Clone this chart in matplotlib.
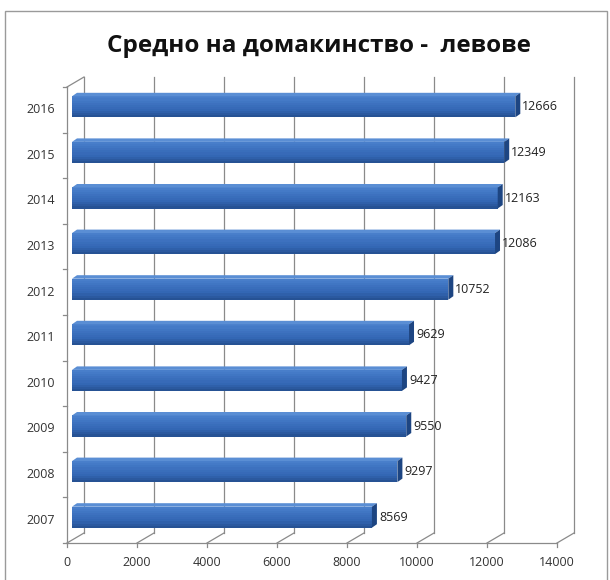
import matplotlib.pyplot as plt
import numpy as np
from matplotlib.patches import Polygon, Rectangle
from matplotlib.colors import LinearSegmentedColormap

plt.rcParams['font.family'] = ['Open Sans', 'DejaVu Sans']

years = ['2007', '2008', '2009', '2010', '2011', '2012', '2013', '2014', '2015', '2016']
values = [8569, 9297, 9550, 9427, 9629, 10752, 12086, 12163, 12349, 12666]
xticks = [0, 2000, 4000, 6000, 8000, 10000, 12000, 14000]
title = 'Средно на домакинство -  левове'

fig = plt.figure(figsize=(6.1, 5.8), dpi=100)
ax = fig.add_axes([67 / 610, 37 / 580, 490 / 610, 456 / 580])
ax.set_xlim(0, 14000)
ax.set_ylim(-0.5, 9.5)
ax.axis('off')

# pixel -> data unit helpers for the fake 3-D depth
ux = 14000 / 490
uy = 10 / 456
wall_dx, wall_dy = 17 * ux, 10 * uy
grid_c = '#8a8a8a'

# back wall gridlines
for t in xticks:
    ax.plot([t + wall_dx] * 2, [-0.5 + wall_dy, 9.5 + wall_dy], color=grid_c, lw=0.9, clip_on=False)
# floor: front edge + depth diagonals + small ticks
ax.plot([0, 14000], [-0.5, -0.5], color=grid_c, lw=0.9, clip_on=False)
for t in xticks:
    ax.plot([t, t + wall_dx], [-0.5, -0.5 + wall_dy], color=grid_c, lw=0.9, clip_on=False)
    ax.plot([t, t], [-0.5, -0.5 - 4 * uy], color=grid_c, lw=0.9, clip_on=False)
    ax.text(t, -0.5 - 20 * uy, str(t), ha='center', va='center', fontsize=9, color='#333333')
# left wall
ax.plot([0, 0], [-0.5, 9.5], color=grid_c, lw=0.9, clip_on=False)
ax.plot([0, wall_dx], [9.5, 9.5 + wall_dy], color=grid_c, lw=0.9, clip_on=False)
for k in range(11):
    ax.plot([0, -4 * ux], [k - 0.5, k - 0.5], color=grid_c, lw=0.9, clip_on=False)

# year labels
for i, yr in enumerate(years):
    ax.text(-12 * ux, i, yr, ha='right', va='center', fontsize=9, color='#333333')

# bars: front face with vertical gradient, top face and end cap
bx, by = 5 * ux, 3 * uy
h = 21 * uy
dx, dy = 5 * ux, 3.5 * uy
y = np.arange(len(years)) + by
shade = LinearSegmentedColormap.from_list('bar', ['#244f8f', '#3366b3', '#3d72c0', '#4a80cc'])
nb = 10
for k in range(nb):
    frac = (k + 0.5) / nb
    ax.barh(y - h / 2 + h * frac, values, height=h / nb * 1.05, left=bx,
            color=shade(frac), edgecolor='none', zorder=3)
for yc, v in zip(y, values):
    top, bot = yc + h / 2, yc - h / 2
    x1 = bx + v
    ax.add_patch(Polygon([(bx, top), (bx + dx, top + dy), (x1 + dx, top + dy), (x1, top)],
                         closed=True, fc='#5a8ed4', ec='none', zorder=3))
    ax.add_patch(Polygon([(x1, bot), (x1, top), (x1 + dx, top + dy), (x1 + dx, bot + dy)],
                         closed=True, fc='#1d4582', ec='none', zorder=3))
    ax.text(x1 + dx + 2 * ux, yc, str(v), ha='left', va='center', fontsize=9,
            color='#222222', zorder=4)

fig.text(319 / 610, 1 - 46 / 580, title, ha='center', va='center', fontsize=17.5,
         fontweight='bold', color='#111111')

# chart frame
fig.patches.append(Rectangle((5 / 610, -0.01), 602 / 610, 0.01 + 569 / 580,
                             transform=fig.transFigure, fill=False, ec='#9a9a9a', lw=1))

fig.savefig('out.png', dpi=100)
